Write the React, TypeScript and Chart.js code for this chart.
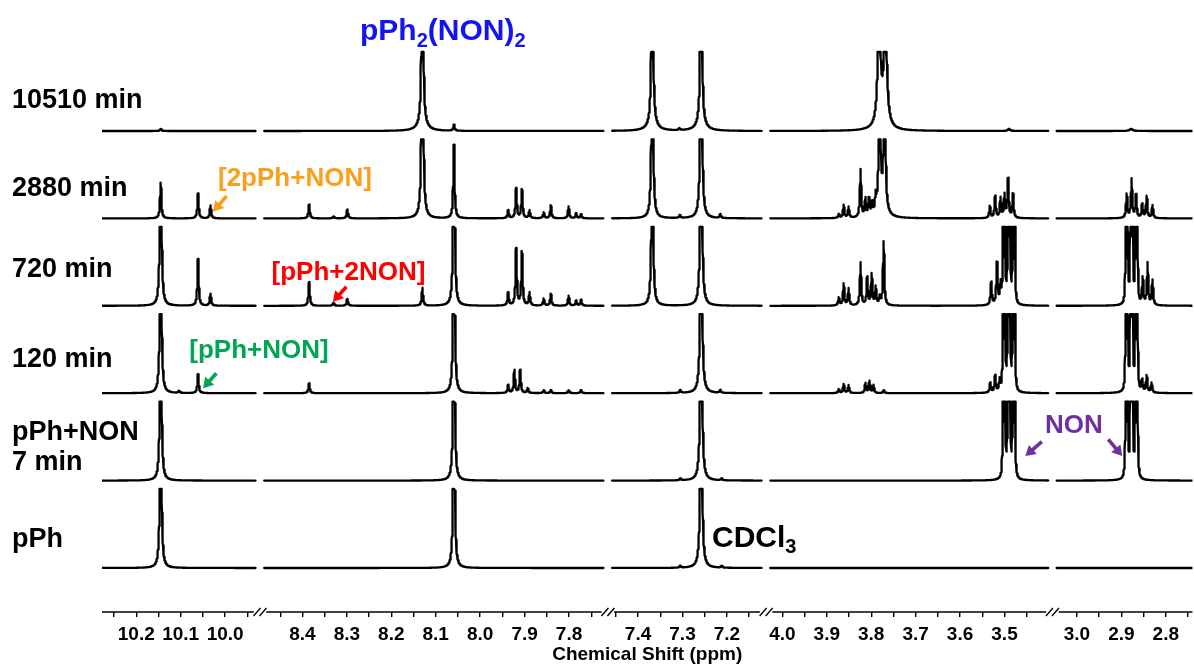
import React, { useEffect, useRef } from 'react';
import { Chart, registerables } from 'chart.js';

Chart.register(...registerables);

const FONT = "'Liberation Sans', Arial, Helvetica, sans-serif";

// ---- axis segments (ppm at left edge -> ppm at right edge), broken axis ----
const SEG_START = [10.2771, 8.486, 7.4584, 4.027, 3.0456];
const SEG_END = [9.931, 7.722, 7.1213, 3.4016, 2.74];

const MAJOR_TICKS = [
  [10.2, 10.1, 10.0],
  [8.4, 8.3, 8.2, 8.1, 8.0, 7.9, 7.8],
  [7.4, 7.3, 7.2],
  [4.0, 3.9, 3.8, 3.7, 3.6, 3.5],
  [3.0, 2.9, 2.8],
];
const MINOR_TICKS = [
  [10.25, 10.15, 10.05, 9.95],
  [8.45, 8.35, 8.25, 8.15, 8.05, 7.95, 7.85, 7.75],
  [7.45, 7.35, 7.25, 7.15],
  [3.95, 3.85, 3.75, 3.65, 3.55, 3.45],
  [2.95, 2.85, 2.75],
];

// ---- spectra, bottom to top ----
const ROW_LABELS = [['pPh'], ['pPh+NON', '7 min'], ['120 min'], ['720 min'], ['2880 min'], ['10510 min']];

// peaks: [ppm, height, half-width (ppm, optional)]
type Peak = [number, number, number?];

const PEAKS_PPH: Peak[] = [
  [10.145, 300, 0.0015],
  [8.059, 300, 0.0015],
  [7.258, 300, 0.0018], [7.305, 2], [7.212, 2],
];

const PEAKS_PPH_NON: Peak[] = [
  [10.145, 300, 0.0015],
  [8.059, 300, 0.0015],
  [7.258, 300, 0.0018], [7.305, 2], [7.212, 2],
  [3.503, 250, 0.0007], [3.499, 250, 0.0007], [3.492, 350, 0.0007], [3.488, 350, 0.0007], [3.481, 250, 0.0007], [3.477, 250, 0.0007],
  [2.89, 250, 0.0007], [2.886, 250, 0.0007], [2.879, 350, 0.0007], [2.875, 350, 0.0007], [2.868, 250, 0.0007], [2.864, 250, 0.0007],
];

const PEAKS_120: Peak[] = [
  [10.145, 300, 0.0015], [10.061, 19], [10.104, 2],
  [8.385, 10], [8.059, 300, 0.0015],
  [7.937, 8], [7.923, 23], [7.91, 23], [7.893, 5], [7.857, 3], [7.841, 3], [7.801, 3], [7.773, 3],
  [7.258, 300, 0.0018], [7.305, 3], [7.215, 3],
  [3.873, 4], [3.862, 9], [3.851, 8], [3.813, 10], [3.804, 12], [3.795, 8], [3.772, 3],
  [3.532, 10], [3.521, 17], [3.511, 12],
  [3.503, 230, 0.0007], [3.499, 230, 0.0007], [3.492, 330, 0.0007], [3.488, 330, 0.0007], [3.481, 230, 0.0007], [3.477, 230, 0.0007],
  [2.89, 230, 0.0007], [2.886, 230, 0.0007], [2.879, 330, 0.0007], [2.875, 330, 0.0007], [2.868, 230, 0.0007], [2.864, 230, 0.0007],
  [2.853, 12], [2.843, 17], [2.832, 10],
];

const PEAKS_720: Peak[] = [
  [10.145, 300, 0.0015], [10.061, 47], [10.033, 12],
  [8.385, 24], [8.33, 3], [8.299, 7], [8.13, 18], [8.059, 300, 0.0015],
  [7.937, 13], [7.919, 57], [7.906, 54], [7.889, 13], [7.857, 7], [7.841, 12], [7.801, 10], [7.784, 5], [7.773, 6],
  [7.368, 300, 0.0015], [7.258, 300, 0.0018],
  [3.873, 8], [3.862, 22], [3.851, 17], [3.824, 43], [3.809, 28], [3.799, 31], [3.79, 18], [3.781, 8], [3.772, 64],
  [3.53, 23], [3.517, 42], [3.509, 20],
  [3.503, 200, 0.0007], [3.499, 200, 0.0007], [3.492, 300, 0.0007], [3.488, 300, 0.0007], [3.481, 200, 0.0007], [3.477, 200, 0.0007],
  [2.89, 200, 0.0007], [2.886, 200, 0.0007], [2.879, 300, 0.0007], [2.875, 300, 0.0007], [2.868, 200, 0.0007], [2.864, 200, 0.0007],
  [2.852, 27], [2.841, 42], [2.83, 25],
];

const PEAKS_2880: Peak[] = [
  [10.145, 36], [10.061, 25], [10.033, 13],
  [8.385, 14], [8.33, 2], [8.299, 9], [8.13, 300, 0.0018], [8.059, 74],
  [7.937, 8], [7.919, 30], [7.906, 29], [7.889, 8], [7.857, 6], [7.841, 13], [7.801, 12], [7.784, 5], [7.773, 4],
  [7.368, 300, 0.0016], [7.258, 300, 0.0018], [7.306, 3], [7.215, 4],
  [3.873, 4], [3.862, 13], [3.851, 11], [3.824, 48], [3.813, 18], [3.805, 17], [3.798, 12], [3.79, 16],
  [3.781, 200, 0.0018], [3.77, 200, 0.0018], [3.775, 6, 0.012],
  [3.533, 12], [3.521, 22], [3.509, 20], [3.5, 23], [3.492, 39], [3.481, 24],
  [2.888, 24], [2.877, 39], [2.867, 23], [2.853, 14], [2.843, 22], [2.83, 13],
];

const PEAKS_10510: Peak[] = [
  [10.145, 2, 0.002],
  [8.13, 300, 0.0016], [8.13, 6, 0.012], [8.059, 6],
  [7.368, 300, 0.0016], [7.368, 6, 0.012], [7.258, 300, 0.0016], [7.258, 6, 0.012], [7.307, 2],
  [3.782, 125, 0.0035], [3.768, 125, 0.0035], [3.775, 5, 0.015],
  [3.49, 2, 0.003],
  [2.878, 2, 0.004],
];

const ROWS: Peak[][] = [PEAKS_PPH, PEAKS_PPH_NON, PEAKS_120, PEAKS_720, PEAKS_2880, PEAKS_10510];

// ---- layout constants ----
const GAP = 0.019; // width of an axis break, in ppm units
const CLIP = 79; // vertical cut-off of each trace
const ROW_BASE0 = 44;
const ROW_STEP = 87.4;
const LABEL_LIFT = [28, 33, 34, 36, 30, 30];
const STEP = 0.0003;
const DEFAULT_W = 0.0017;

const SEG_OFFSET: number[] = [];
{
  let o = 0;
  for (let i = 0; i < SEG_START.length; i++) {
    SEG_OFFSET.push(o);
    o += SEG_START[i] - SEG_END[i] + GAP;
  }
}
const X_MAX = SEG_OFFSET[4] + SEG_START[4] - SEG_END[4];
const toV = (seg: number, ppm: number) => SEG_OFFSET[seg] + (SEG_START[seg] - ppm);
const rowBase = (r: number) => ROW_BASE0 + r * ROW_STEP;

function intensity(peaks: Peak[], ppm: number) {
  let s = 0;
  for (const p of peaks) {
    const w = p[2] ?? DEFAULT_W;
    const d = (ppm - p[0]) / w;
    s += p[1] / (1 + d * d);
  }
  return s;
}

function buildSpectrum(peaks: Peak[], base: number) {
  const pts: { x: number; y: number | null }[] = [];
  for (let i = 0; i < SEG_START.length; i++) {
    const n = Math.round((SEG_START[i] - SEG_END[i]) / STEP);
    for (let k = 0; k <= n; k++) {
      const ppm = SEG_START[i] - (k * (SEG_START[i] - SEG_END[i])) / n;
      pts.push({ x: toV(i, ppm), y: base + Math.min(intensity(peaks, ppm), CLIP) });
    }
    if (i < SEG_START.length - 1) pts.push({ x: toV(i, SEG_END[i]) + GAP / 2, y: null });
  }
  return pts;
}

const X_TICKS: { v: number; label: string }[] = [];
MAJOR_TICKS.forEach((list, i) => list.forEach((p) => X_TICKS.push({ v: toV(i, p), label: p.toFixed(1) })));
MINOR_TICKS.forEach((list, i) => list.forEach((p) => X_TICKS.push({ v: toV(i, p), label: '' })));
X_TICKS.sort((a, b) => a.v - b.v);

const Y_TICKS = ROW_LABELS.map((_, r) => rowBase(r) + LABEL_LIFT[r]);

type Run = { t: string; s: number; dy?: number };
function drawRich(ctx: CanvasRenderingContext2D, x: number, y: number, runs: Run[], color: string, weight: string) {
  ctx.fillStyle = color;
  ctx.textAlign = 'left';
  ctx.textBaseline = 'alphabetic';
  let cx = x;
  for (const r of runs) {
    ctx.font = `${weight} ${r.s}px ${FONT}`;
    ctx.fillText(r.t, cx, y + (r.dy || 0));
    cx += ctx.measureText(r.t).width;
  }
}

function drawArrow(ctx: CanvasRenderingContext2D, x1: number, y1: number, x2: number, y2: number, color: string) {
  const a = Math.atan2(y2 - y1, x2 - x1);
  const hl = 10;
  const hw = 6;
  const bx = x2 - hl * Math.cos(a);
  const by = y2 - hl * Math.sin(a);
  ctx.strokeStyle = color;
  ctx.fillStyle = color;
  ctx.lineWidth = 3.6;
  ctx.lineCap = 'butt';
  ctx.beginPath();
  ctx.moveTo(x1, y1);
  ctx.lineTo(bx + Math.cos(a), by + Math.sin(a));
  ctx.stroke();
  ctx.beginPath();
  ctx.moveTo(x2, y2);
  ctx.lineTo(bx - hw * Math.sin(a), by + hw * Math.cos(a));
  ctx.lineTo(bx + hw * Math.sin(a), by - hw * Math.cos(a));
  ctx.closePath();
  ctx.fill();
}

// arrows: [segment, ppm, row, tip dx, tip dy (px), tail dx, tail dy (px), colour]
const ARROWS: [number, number, number, number, number, number, number, string][] = [
  [0, 10.033, 4, 2.7, -6.7, 13.4, -15.7, '#F8A01E'],
  [1, 8.33, 3, -0.6, -4, 13.4, -15, '#FF0000'],
  [0, 10.061, 2, 5, -5, 13.4, -15, '#00A651'],
  [3, 3.478, 1, 11, -24.6, 16.6, -14.3, '#7030A0'],
  [4, 2.889, 1, -4, -24.6, -14, -16.7, '#7030A0'],
];

const decorPlugin = {
  id: 'decor',
  afterDraw(chart: any) {
    const { ctx, chartArea, scales } = chart;
    const xs = scales.x;
    const ys = scales.y;
    const y0 = chartArea.bottom;
    const px = (i: number, ppm: number) => xs.getPixelForValue(toV(i, ppm));
    ctx.save();
    // broken x axis line
    ctx.strokeStyle = '#000';
    ctx.lineWidth = 1.4;
    for (let i = 0; i < SEG_START.length; i++) {
      const a = px(i, SEG_START[i]) + (i > 0 ? 2 : 0);
      const b = px(i, SEG_END[i]) - (i < SEG_START.length - 1 ? 2 : 0);
      ctx.beginPath();
      ctx.moveTo(a, y0);
      ctx.lineTo(b, y0);
      ctx.stroke();
      if (i < SEG_START.length - 1) {
        const cx = (px(i, SEG_END[i]) + px(i + 1, SEG_START[i + 1])) / 2;
        for (const dx of [-3, 3]) {
          ctx.beginPath();
          ctx.moveTo(cx + dx - 3.5, y0 + 4);
          ctx.lineTo(cx + dx + 3.5, y0 - 4);
          ctx.stroke();
        }
      }
    }
    // annotations
    drawRich(ctx, 360, 40, [{ t: 'pPh', s: 30 }, { t: '2', s: 20, dy: 6.5 }, { t: '(NON)', s: 30 }, { t: '2', s: 20, dy: 6.5 }], '#1414F0', 'bold');
    drawRich(ctx, 218, 186, [{ t: '[2pPh+NON]', s: 26 }], '#F8A01E', 'bold');
    drawRich(ctx, 271.5, 279.5, [{ t: '[pPh+2NON]', s: 26 }], '#FF0000', 'bold');
    drawRich(ctx, 189.3, 357.7, [{ t: '[pPh+NON]', s: 26 }], '#00A651', 'bold');
    drawRich(ctx, 1045, 433.3, [{ t: 'NON', s: 26 }], '#7030A0', 'bold');
    drawRich(ctx, 712, 547, [{ t: 'CDCl', s: 30 }, { t: '3', s: 20, dy: 6 }], '#000', 'bold');
    for (const [seg, ppm, row, tdx, tdy, ldx, ldy, col] of ARROWS) {
      const tx = px(seg, ppm) + tdx;
      const ty = ys.getPixelForValue(rowBase(row)) + tdy;
      drawArrow(ctx, tx + ldx, ty + ldy, tx, ty, col);
    }
    ctx.restore();
  },
};

export default function App() {
  const ref = useRef<HTMLCanvasElement>(null);
  useEffect(() => {
    if (!ref.current) return;
    const chart = new Chart(ref.current, {
      type: 'line',
      data: {
        datasets: ROWS.map((peaks, r) => ({
          label: ROW_LABELS[r].join(' '),
          data: buildSpectrum(peaks, rowBase(r)) as any,
          borderColor: '#000',
          borderWidth: 2.3,
          borderJoinStyle: 'round',
          borderCapStyle: 'round',
          pointRadius: 0,
          tension: 0,
          spanGaps: false,
          fill: false,
        })),
      },
      options: {
        animation: false,
        responsive: true,
        maintainAspectRatio: false,
        parsing: false,
        normalized: true,
        events: [],
        layout: { padding: { left: 12, top: 20, right: 0, bottom: 0 } },
        plugins: { legend: { display: false }, tooltip: { enabled: false }, title: { display: false } },
        scales: {
          x: {
            type: 'linear',
            min: 0,
            max: X_MAX,
            border: { display: false },
            grid: { display: true, drawOnChartArea: false, drawTicks: true, tickLength: 5, color: '#000', lineWidth: 1.4 },
            afterBuildTicks: (scale: any) => {
              scale.ticks = X_TICKS.map((t) => ({ value: t.v }));
            },
            afterFit: (scale: any) => {
              scale.height = 52;
            },
            ticks: {
              autoSkip: false,
              maxRotation: 0,
              minRotation: 0,
              padding: 6,
              color: '#000',
              font: { family: FONT, size: 19, weight: 'bold' },
              callback: (_v: any, i: number) => X_TICKS[i]?.label ?? '',
            },
            title: {
              display: true,
              text: 'Chemical Shift (ppm)',
              color: '#000',
              font: { family: FONT, size: 19, weight: 'bold', lineHeight: 1 },
              padding: { top: 0, bottom: 0 },
            },
          },
          y: {
            type: 'linear',
            min: 0,
            max: 592,
            border: { display: false },
            grid: { display: false, drawTicks: false },
            afterBuildTicks: (scale: any) => {
              scale.ticks = Y_TICKS.map((v) => ({ value: v }));
            },
            afterFit: (scale: any) => {
              scale.width = 90;
            },
            ticks: {
              autoSkip: false,
              mirror: true,
              crossAlign: 'near',
              padding: -90,
              color: '#000',
              font: { family: FONT, size: 27, weight: 'bold', lineHeight: 1.1 },
              callback: (_v: any, i: number) => ROW_LABELS[i] ?? '',
            },
          },
        },
      },
      plugins: [decorPlugin],
    } as any);
    return () => chart.destroy();
  }, []);
  return (
    <div style={{ position: 'absolute', left: 0, top: 0, width: 1194, height: 664, background: '#fff' }}>
      <canvas ref={ref} />
    </div>
  );
}
